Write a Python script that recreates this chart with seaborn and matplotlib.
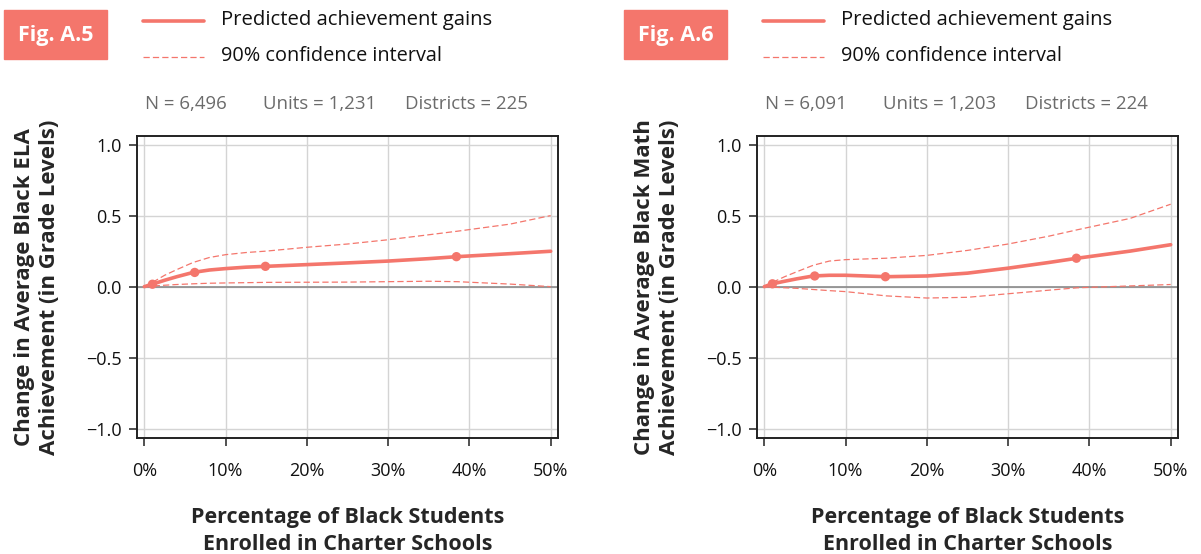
import matplotlib
matplotlib.use("Agg")
import matplotlib.pyplot as plt
import seaborn as sns
import pandas as pd
from matplotlib.lines import Line2D
from matplotlib.patches import Rectangle

pct = [0, 1, 2.5, 4, 6, 8, 10, 12.5, 15, 20, 25, 30, 35, 38.5, 45, 50]

ela_pred = [0, 0.017, 0.045, 0.07, 0.10, 0.117, 0.127, 0.137, 0.143, 0.155, 0.167, 0.18, 0.197, 0.211, 0.232, 0.249]
ela_upper = [0, 0.03, 0.08, 0.12, 0.17, 0.205, 0.225, 0.24, 0.25, 0.277, 0.30, 0.33, 0.365, 0.39, 0.44, 0.50]
ela_lower = [0, 0.004, 0.01, 0.015, 0.02, 0.024, 0.026, 0.028, 0.03, 0.031, 0.032, 0.035, 0.038, 0.035, 0.018, 0.0]

math_pred = [0, 0.02, 0.038, 0.055, 0.075, 0.08, 0.08, 0.075, 0.07, 0.075, 0.095, 0.13, 0.17, 0.20, 0.25, 0.295]
math_upper = [0, 0.03, 0.07, 0.105, 0.15, 0.18, 0.19, 0.195, 0.20, 0.22, 0.255, 0.30, 0.355, 0.40, 0.48, 0.58]
math_lower = [0, -0.003, -0.008, -0.012, -0.02, -0.028, -0.035, -0.05, -0.065, -0.08, -0.075, -0.05, -0.025, -0.008, 0.005, 0.015]

marker_pct = [1, 6.2, 14.9, 38.4]
ela_markers = [0.017, 0.10, 0.143, 0.211]
math_markers = [0.02, 0.075, 0.07, 0.20]

x_ticks = [0, 10, 20, 30, 40, 50]
x_labels = ["0%", "10%", "20%", "30%", "40%", "50%"]
y_ticks = [-1.0, -0.5, 0.0, 0.5, 1.0]
y_labels = ["\u22121.0", "\u22120.5", "0.0", "0.5", "1.0"]

panels = [
    ("Fig. A.5", "Change in Average Black ELA\nAchievement (in Grade Levels)",
     ["N = 6,496", "Units = 1,231", "Districts = 225"],
     ela_pred, ela_upper, ela_lower, ela_markers),
    ("Fig. A.6", "Change in Average Black Math\nAchievement (in Grade Levels)",
     ["N = 6,091", "Units = 1,203", "Districts = 224"],
     math_pred, math_upper, math_lower, math_markers),
]

RED = "#f4766c"
W, H = 1201, 554

sns.set_style("white")
plt.rcParams["font.family"] = ["Open Sans", "DejaVu Sans"]

fig = plt.figure(figsize=(W / 100, H / 100), dpi=100)

offsets = [0, 620]
for i, (fig_tag, ylab, counts, pred, upper, lower, mk) in enumerate(panels):
    ox = offsets[i]
    ax = fig.add_axes([(137 + ox) / W, 1 - 438 / H, 421 / W, 302 / H])

    df = pd.DataFrame({"pct": pct, "pred": pred, "upper": upper, "lower": lower})
    ax.axhline(0, color="#8a8a8a", lw=1.2, zorder=1)
    sns.lineplot(data=df, x="pct", y="upper", ax=ax, color=RED, lw=0.9,
                 linestyle=(0, (5, 2.5)), zorder=3)
    sns.lineplot(data=df, x="pct", y="lower", ax=ax, color=RED, lw=0.9,
                 linestyle=(0, (5, 2.5)), zorder=3)
    sns.lineplot(data=df, x="pct", y="pred", ax=ax, color=RED, lw=2.6, zorder=4)
    sns.scatterplot(x=marker_pct, y=mk, ax=ax, color=RED, s=45, edgecolor="none", zorder=5)

    ax.set_xlim(-0.9, 50.9)
    ax.set_ylim(-1.065, 1.06)
    ax.set_xticks(x_ticks)
    ax.set_xticklabels(x_labels)
    ax.set_yticks(y_ticks)
    ax.set_yticklabels(y_labels)
    ax.grid(True, color="#d4d4d4", lw=1.0)
    ax.set_axisbelow(True)
    for s in ax.spines.values():
        s.set_color("#222222")
        s.set_linewidth(1.4)
    ax.tick_params(axis="both", direction="out", length=6, width=1.1, color="#222222",
                   labelsize=13, labelcolor="#111111", pad=5, left=True, bottom=True)
    ax.tick_params(axis="x", pad=11)
    ax.set_xlabel("Percentage of Black Students\nEnrolled in Charter Schools",
                  fontsize=15.5, fontweight="bold", labelpad=20, linespacing=1.35)
    ax.set_ylabel(ylab, fontsize=16, fontweight="bold", labelpad=19, linespacing=1.25)

    # figure tag box
    fig.patches.append(Rectangle(((4 + ox) / W, 1 - 59 / H), 103 / W, 49 / H,
                                 transform=fig.transFigure, color=RED, zorder=0))
    fig.text((56 + ox) / W, 1 - 35 / H, fig_tag, color="white", fontsize=15.5,
             fontweight="bold", ha="center", va="center")

    # legend
    fig.add_artist(Line2D([(143 + ox) / W, (204 + ox) / W], [1 - 21 / H, 1 - 21 / H],
                          color=RED, lw=2.6))
    fig.add_artist(Line2D([(143 + ox) / W, (204 + ox) / W], [1 - 57 / H, 1 - 57 / H],
                          color=RED, lw=0.9, linestyle=(0, (5, 2.5))))
    fig.text((221 + ox) / W, 1 - 20 / H, "Predicted achievement gains", fontsize=14.6,
             color="#111111", va="center")
    fig.text((221 + ox) / W, 1 - 56 / H, "90% confidence interval", fontsize=14.3,
             color="#111111", va="center")
    for dx, t in zip([0, 118, 260], counts):
        fig.text((145 + dx + ox) / W, 1 - 104 / H, t, fontsize=13.4, color="#6b6b6b",
                 va="center")

fig.savefig("out.png", dpi=100)
